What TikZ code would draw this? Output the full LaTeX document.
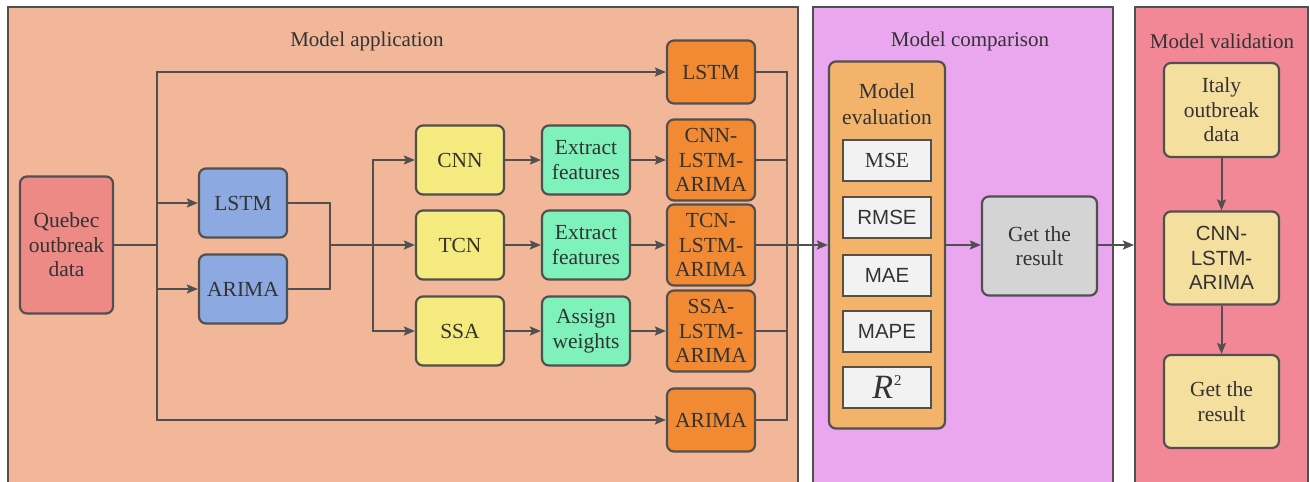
\documentclass[tikz,border=0pt]{standalone}
\usepackage{fontspec}
\setmainfont{Liberation Serif}
\setsansfont{Liberation Sans}
\usetikzlibrary{arrows.meta}
\definecolor{panA}{HTML}{F2B799}
\definecolor{panB}{HTML}{EBA6F0}
\definecolor{panC}{HTML}{F28796}
\definecolor{cQ}{HTML}{EE8A86}
\definecolor{cBlue}{HTML}{8CA9E1}
\definecolor{cYel}{HTML}{F4EA7E}
\definecolor{cGrn}{HTML}{7EF2BA}
\definecolor{cOra}{HTML}{F28A33}
\definecolor{cEv}{HTML}{F4B36A}
\definecolor{cMet}{HTML}{F2F2F2}
\definecolor{cGray}{HTML}{D4D4D4}
\definecolor{cVal}{HTML}{F5DF9E}
\definecolor{cLine}{HTML}{505050}
\definecolor{cTxt}{HTML}{333333}
\tikzset{
  panel/.style={draw=cLine, line width=2pt, inner sep=0pt},
  box/.style={draw=cLine, line width=2.2pt, rounded corners=7pt, align=center, text=cTxt,
    inner sep=1pt, font=\fontsize{21.5}{24.5}\selectfont},
  met/.style={draw=cLine, line width=2pt, fill=cMet, minimum width=88pt, minimum height=41pt,
    text=cTxt, inner sep=0pt, font=\fontsize{21.5}{24.5}\selectfont},
  ttl/.style={text=cTxt, font=\fontsize{21}{24}\selectfont, inner sep=0pt},
  ln/.style={draw=cLine, line width=2pt},
  arr/.style={ln, -{Stealth[length=11pt,width=9pt,inset=2pt]}},
}
\begin{document}
\begin{tikzpicture}[x=1pt,y=-1pt]
\useasboundingbox[fill=white] (0,0) rectangle (1310,482);
% panels
\node[panel, fill=panA, minimum width=790pt, minimum height=490pt] (p1) at (403,252) {};
\node[panel, fill=panB, minimum width=300pt, minimum height=490pt] (p2) at (963,252) {};
\node[panel, fill=panC, minimum width=173pt, minimum height=490pt] (p3) at (1221.5,252) {};
\node[ttl] (t1) at (367,41) {Model application};
\node[ttl] (t2) at (970,41) {Model comparison};
\node[ttl] (t3) at (1222,41) {Model validation};
% model application
\node[box, fill=cQ, minimum width=93pt, minimum height=137pt] (q) at (66.5,245) {Quebec\\outbreak\\data};
\node[box, fill=cBlue, minimum width=88pt, minimum height=69pt] (bl) at (243,203) {LSTM};
\node[box, fill=cBlue, minimum width=88pt, minimum height=69pt] (ba) at (243,289) {ARIMA};
\node[box, fill=cYel, minimum width=88pt, minimum height=69pt] (cnn) at (460,160) {CNN};
\node[box, fill=cYel, minimum width=88pt, minimum height=69pt] (tcn) at (460,245) {TCN};
\node[box, fill=cYel, minimum width=88pt, minimum height=69pt] (ssa) at (460,331) {SSA};
\node[box, fill=cGrn, minimum width=88pt, minimum height=69pt] (ef1) at (586,160) {Extract\\features};
\node[box, fill=cGrn, minimum width=88pt, minimum height=69pt] (ef2) at (586,245) {Extract\\features};
\node[box, fill=cGrn, minimum width=88pt, minimum height=69pt] (aw) at (586,331) {Assign\\weights};
\node[box, fill=cOra, minimum width=88pt, minimum height=63pt] (ol) at (711,72) {LSTM};
\node[box, fill=cOra, minimum width=88pt, minimum height=81pt] (ocl) at (711,160) {CNN-\\LSTM-\\ARIMA};
\node[box, fill=cOra, minimum width=88pt, minimum height=81pt] (otl) at (711,245) {TCN-\\LSTM-\\ARIMA};
\node[box, fill=cOra, minimum width=88pt, minimum height=81pt] (osl) at (711,331) {SSA-\\LSTM-\\ARIMA};
\node[box, fill=cOra, minimum width=88pt, minimum height=63pt] (oa) at (711,420) {ARIMA};
\coordinate (s1) at (157,245);
\coordinate (m1) at (330,245);
\coordinate (s2) at (373,245);
\coordinate (m2) at (787,245);
\draw[ln] (q.east) -- (s1);
\draw[arr] (s1) |- (ol.west);
\draw[arr] (s1) |- (oa.west);
\draw[arr] (s1) |- (bl.west);
\draw[arr] (s1) |- (ba.west);
\draw[ln] (bl.east) -| (m1);
\draw[ln] (ba.east) -| (m1);
\draw[ln] (m1) -- (s2);
\draw[arr] (s2) |- (cnn.west);
\draw[arr] (s2) -- (tcn.west);
\draw[arr] (s2) |- (ssa.west);
\draw[arr] (cnn) -- (ef1);
\draw[arr] (tcn) -- (ef2);
\draw[arr] (ssa) -- (aw);
\draw[arr] (ef1) -- (ocl);
\draw[arr] (ef2) -- (otl);
\draw[arr] (aw) -- (osl);
\draw[ln] (ol.east) -| (m2);
\draw[ln] (oa.east) -| (m2);
\draw[ln] (ocl.east) -| (m2);
\draw[ln] (osl.east) -| (m2);
% model comparison
\node[box, fill=cEv, minimum width=116pt, minimum height=367pt] (ev) at (887,245) {};
\node[text=cTxt, align=center, inner sep=0pt, font=\fontsize{21.5}{26}\selectfont] (evt) at (887,104) {Model\\evaluation};
\node[met] (mse) at (887,160) {MSE};
\node[met, font=\sffamily\fontsize{20.5}{24}\selectfont] (rmse) at (887,217.5) {RMSE};
\node[met, font=\sffamily\fontsize{20.5}{24}\selectfont] (mae) at (887,275.5) {MAE};
\node[met, font=\sffamily\fontsize{20.5}{24}\selectfont] (mape) at (887,331.5) {MAPE};
\node[met, font=\fontsize{34}{34}\selectfont] (r2) at (887,387.5) {\textit{R}\hspace{1pt}\raisebox{13pt}{\fontsize{15}{15}\selectfont 2}};
\node[box, fill=cGray, minimum width=115pt, minimum height=99pt] (res) at (1039.5,246) {Get the\\result};
\draw[arr] (otl.east) -- (ev.west);
\draw[arr] (ev.east) -- (ev.east -| res.west);
\draw[arr] (res.east |- ev.east) -- (ev.east -| p3.west);
% model validation
\node[box, fill=cVal, minimum width=115pt, minimum height=94pt] (it) at (1221.5,110) {Italy\\outbreak\\data};
\node[box, fill=cVal, minimum width=115pt, minimum height=93pt, font=\sffamily\fontsize{20.5}{24.5}\selectfont] (cla) at (1221.5,258) {CNN-\\LSTM-\\ARIMA};
\node[box, fill=cVal, minimum width=115pt, minimum height=93pt] (gr) at (1221.5,401.5) {Get the\\result};
\draw[arr] (it) -- (cla);
\draw[arr] (cla) -- (gr);
\end{tikzpicture}
\end{document}
